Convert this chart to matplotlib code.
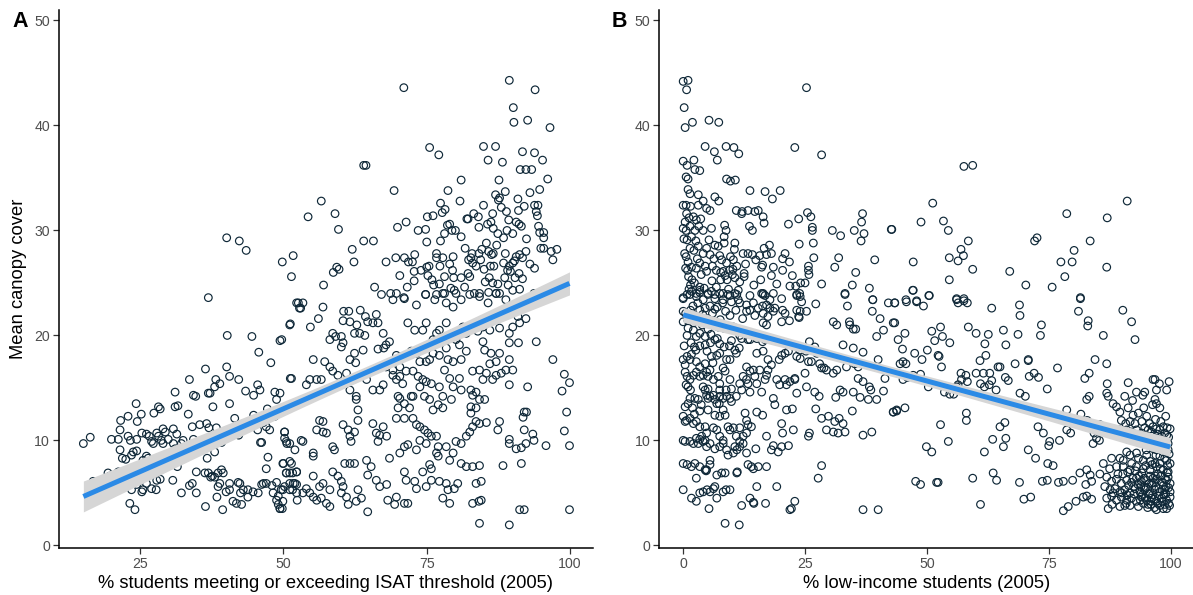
import numpy as np
import matplotlib
matplotlib.use("Agg")
import matplotlib.pyplot as plt

plt.rcParams['font.family'] = ['Liberation Sans', 'DejaVu Sans']

# ---- Panel A: % students meeting/exceeding ISAT (x) vs mean canopy cover (y)
isat_high = [
    (40.1,29.3),(42.3,29.0),(43.5,28.1),(49.8,27.0),(51.7,27.6),(51.4,25.6),(36.9,23.6),
    (89.4,44.3),(93.9,43.4),(71.0,43.6),(90.1,41.7),(90.2,40.3),(92.6,40.5),(96.5,39.8),
    (75.5,37.9),(77.1,37.2),(84.9,38.0),(87.0,38.0),(85.7,36.7),(88.2,36.5),(91.7,37.5),
    (93.8,37.4),(95.2,36.7),(91.3,35.8),(92.3,35.8),(93.3,35.8),(96.1,34.9),(81.0,34.8),
    (87.6,34.8),(64.0,36.2),(64.4,36.2),(69.3,33.8),(78.7,33.8),(87.0,33.4),(88.7,33.7),
    (93.0,33.6),(94.7,33.9),(56.6,32.8),(80.8,32.8),(77.4,32.6),(87.5,32.9),(87.7,33.1),
    (90.9,33.0),(84.9,32.4),(92.0,32.3),(93.8,32.4),(94.4,32.4),(54.3,31.3),(59.0,31.6),
    (59.6,30.1),(75.1,31.3),(76.1,31.4),(77.7,31.7),(78.2,32.0),(82.0,31.1),(82.2,31.1),
    (83.2,31.6),(84.0,31.3),(86.5,31.6),(88.0,32.2),(88.9,31.8),(91.0,31.9),(94.1,31.8),
    (94.3,31.4),(69.9,30.3),(71.4,30.8),(73.5,30.0),(74.8,30.1),(75.0,28.9),(77.4,29.0),
    (78.1,29.7),(78.6,30.5),(79.0,30.6),(79.4,30.0),(80.0,30.0),(81.0,29.4),(84.1,30.3),
    (85.6,30.6),(86.2,30.8),(86.6,30.2),(87.4,29.7),(88.4,29.3),(89.0,30.0),(89.3,31.0),
    (90.0,29.7),(90.6,30.8),(91.1,30.6),(91.5,30.4),(92.4,29.2),(94.5,30.4),(94.7,29.8),
    (95.4,29.8),(95.4,29.3),(94.9,28.3),(95.4,28.3),(96.7,28.0),(97.7,28.2),(97.0,27.2),
    (93.0,26.8),(93.8,26.4),(91.7,25.4),(57.0,24.8),(62.0,28.2),(62.3,27.0),(64.0,29.0),
    (65.7,29.0),(58.7,26.0),(59.3,26.5),(59.7,26.3),(65.9,24.6),(67.1,23.9),(68.7,24.0),
    (67.9,27.0),(69.6,27.4),(70.3,25.7),(71.1,27.4),(71.6,24.6),(71.8,27.0),(72.5,27.0),
    (72.8,26.1),(72.9,27.7),(72.8,25.2),(74.0,26.2),(75.0,26.5),(75.4,26.6),(75.2,25.7),
    (75.9,25.3),(76.2,24.8),(76.7,27.8),(76.7,27.4),(77.8,27.4),(77.3,26.6),(78.1,25.6),
    (77.2,24.9),(79.0,26.8),(79.6,27.5),(79.5,26.2),(79.7,25.5),(79.2,24.5),(81.0,25.5),
    (81.7,28.3),(82.3,27.2),(82.7,27.4),(83.0,26.9),(82.9,27.8),(82.2,25.9),(82.5,25.6),
    (81.6,24.6),(83.6,26.6),(84.1,27.8),(84.6,28.2),(84.4,27.2),(85.0,26.3),(85.2,25.1),
    (85.4,28.8),(85.8,28.0),(86.3,27.7),(86.6,27.8),(86.1,26.6),(86.7,26.6),(87.2,28.6),
    (85.9,25.5),(86.5,25.0),(87.4,24.9),(88.7,27.8),(88.4,26.9),(89.1,26.2),(89.4,26.6),
    (89.6,26.1),(90.0,26.9),(90.3,27.1),(90.6,27.5),(91.2,27.7),(88.6,25.5),(89.2,24.8),
    (91.1,25.9),(90.4,25.5),(92.3,28.0),(91.7,27.4),(90.0,24.3),(91.2,24.4),(93.7,24.0),
    (93.9,23.8),(84.2,24.0),(85.8,24.1),(87.1,24.0),(87.7,24.0),(78.1,24.0),(76.7,23.9),
    (79.8,24.3),(74.8,23.9),(71.0,23.6),(83.3,24.0),(80.1,24.0),
]

isat_mid = [
    (52.6,23.1),(53.4,23.1),(53.0,22.6),(56.9,22.7),(51.2,21.1),(54.7,20.8),(56.1,21.6),
    (60.5,22.3),(61.4,22.3),(60.4,21.4),(61.6,21.3),(62.8,21.0),(63.4,22.4),(64.3,21.8),
    (64.7,21.3),(63.3,20.2),(62.4,20.2),(66.2,22.0),(65.6,21.2),(66.5,21.2),(67.4,20.2),
    (64.2,20.0),(58.6,20.2),(59.1,19.9),(58.1,19.6),(60.1,19.9),(60.4,19.3),(60.1,18.9),
    (67.9,19.1),(68.5,19.4),(67.5,18.8),(63.9,18.6),(62.4,18.3),(62.6,17.4),(61.6,17.7),
    (66.5,18.7),(69.1,23.4),(69.7,24.0),(71.1,23.5),(73.2,22.9),(74.8,23.9),(76.4,23.4),
    (77.8,24.0),(78.4,23.1),(79.6,22.7),(81.0,23.4),(82.5,23.9),(84.2,23.7),(85.7,23.1),
    (87.1,24.0),(88.8,23.4),(89.7,22.7),(92.3,21.6),(90.9,21.8),(94.1,23.9),(93.4,23.2),
    (71.7,21.2),(72.9,20.5),(74.3,20.5),(74.9,21.2),(76.7,20.2),(77.2,20.5),(78.4,21.2),
    (81.3,20.8),(81.9,20.2),(79.6,20.2),(83.9,20.4),(84.8,20.8),(86.0,20.5),(87.7,20.7),
    (89.4,20.2),(90.0,20.8),(91.2,21.2),(89.4,19.3),(91.0,19.3),(94.1,19.4),(97.0,17.7),
    (99.0,16.3),(99.9,15.5),(98.6,14.7),(92.6,15.1),(89.4,15.3),(85.1,18.6),(86.2,18.3),
    (84.8,19.4),(87.7,18.3),(81.9,18.5),(81.0,17.7),(79.6,17.5),(78.7,17.7),(78.1,16.7),
    (79.0,15.9),(80.7,15.9),(77.2,15.1),(79.6,15.1),(81.0,14.8),(77.8,14.2),(79.3,13.9),
    (77.0,13.4),(77.8,13.1),(76.1,12.9),(74.6,14.2),(75.5,13.9),(73.8,15.1),(74.9,15.6),
    (75.8,15.4),(72.6,16.6),(73.5,16.1),(74.3,15.8),(71.4,16.6),(70.3,16.1),(70.8,15.4),
    (69.7,15.8),(69.1,16.2),(70.0,14.2),(70.3,14.0),(72.3,14.2),(72.6,14.2),(71.1,13.5),
    (70.0,13.1),(72.0,13.1),(83.0,16.6),(84.2,16.7),(85.4,16.4),(87.1,16.2),(88.0,16.4),
    (88.8,16.7),(90.0,16.7),(86.0,17.3),(87.1,17.5),(89.4,17.7),(84.8,15.8),(86.5,15.8),
    (82.7,14.8),(83.6,14.6),(83.0,14.3),(84.2,13.9),(85.1,13.9),(82.7,12.6),(83.6,13.1),
    (82.7,13.2),(49.7,19.6),(51.4,15.9),(49.4,14.5),(55.2,17.7),(55.8,15.8),(54.6,15.8),
    (56.6,15.8),(54.0,15.3),(57.2,17.5),(58.1,17.0),(58.6,16.6),(59.5,16.2),(59.8,15.3),
    (61.0,16.4),(61.6,14.8),(62.7,14.2),(64.5,15.8),(65.6,14.8),(66.8,14.8),(67.4,15.3),
    (67.9,17.0),(69.1,16.7),(69.7,18.1),(70.6,18.0),(70.3,17.0),(72.3,18.5),(73.2,18.3),
    (73.8,17.5),(74.9,17.5),(75.5,17.7),(76.1,18.3),(77.2,18.1),(76.7,19.3),(76.1,19.6),
    (78.4,18.8),(80.1,19.6),(80.7,19.1),
]

isat_low = [
    (99.4,12.7),(99.0,10.9),(99.9,9.5),(99.9,3.4),(92.0,12.7),(92.4,12.7),(91.8,12.2),
    (89.4,10.1),(89.4,9.7),(90.6,9.2),(91.5,9.3),(92.3,9.7),(93.5,10.6),(93.7,10.0),
    (92.0,11.0),(87.4,11.0),(87.7,11.8),(95.8,9.5),(88.3,7.6),(91.5,7.8),(91.2,3.4),
    (92.0,3.4),(84.2,2.1),(89.4,1.95),(84.5,4.3),(84.1,4.2),(83.0,4.0),(84.5,6.1),
    (83.6,5.9),(84.2,7.6),(83.0,7.5),(81.9,7.5),(81.0,7.8),(79.6,8.8),(79.0,8.1),
    (80.1,9.9),(81.0,9.7),(81.9,10.4),(82.5,10.8),(83.0,11.3),(83.6,11.8),(84.2,11.6),
    (85.4,11.7),(73.2,11.5),(73.8,11.3),(74.6,11.0),(75.2,10.7),(75.8,10.4),(76.7,10.4),
    (73.8,10.0),(74.9,9.7),(77.0,9.4),(78.4,9.4),(73.2,9.1),(71.7,9.6),(71.1,9.4),
    (70.3,8.8),(68.5,8.3),(66.8,10.5),(68.0,10.4),(67.4,11.3),(65.6,11.6),(66.2,10.7),
    (66.5,9.9),(69.7,12.1),(71.1,12.1),(72.6,12.1),(64.5,8.1),(65.3,7.5),(64.7,6.7),
    (66.2,6.2),(66.8,5.6),(68.0,5.8),(68.2,4.3),(69.7,4.6),(69.4,3.9),(71.1,4.0),
    (71.7,4.0),(71.1,7.0),(71.4,6.2),(72.9,6.1),(73.2,5.4),(74.9,5.6),(75.8,6.2),
    (74.3,7.0),(75.5,7.7),(75.8,7.3),(76.7,8.8),(77.0,8.5),(77.2,6.1),(78.4,5.9),
    (78.7,5.3),(79.0,4.0),(77.8,4.5),(79.8,5.4),(80.4,5.9),(62.7,4.2),(64.7,3.2),
    (63.0,5.3),(63.6,4.5),(61.0,4.6),(61.3,3.9),(60.1,5.0),(58.6,7.0),(59.5,6.6),
    (60.1,6.1),(60.4,5.6),(60.7,7.8),(61.6,7.8),(62.4,7.8),(56.9,5.9),(58.1,5.3),
    (56.3,5.6),(55.2,6.6),(54.0,5.4),(53.4,5.0),(54.6,5.0),(55.2,4.6),(55.8,4.3),
    (56.6,4.5),(58.1,3.7),(57.5,4.0),(51.7,5.9),(52.3,5.8),(51.1,5.3),(49.9,5.3),
    (49.9,4.2),(49.4,3.5),(50.5,6.9),(51.1,6.9),(52.3,7.0),(51.4,7.8),(49.9,7.8),
    (55.2,8.8),(55.2,8.5),(53.4,9.9),(53.1,10.0),(55.8,11.0),(56.9,10.8),(57.5,10.7),
    (56.3,11.9),(56.9,11.8),(58.6,9.4),(58.9,9.1),(60.4,11.5),(61.3,11.0),(61.6,10.4),
    (61.8,9.9),(63.0,11.9),(62.4,10.8),(63.0,12.9),(62.7,13.9),(50.2,10.8),(50.5,9.9),
    (51.1,9.7),
]

isat_left = [
    (52.3,23.1),(52.8,22.6),(51.1,21.0),(40.2,20.0),(44.5,19.9),(49.4,19.5),(45.7,18.4),
    (47.8,17.4),(40.1,17.0),(36.4,16.8),(40.6,16.1),(42.2,15.8),(51.2,15.9),(33.6,15.8),
    (38.2,15.8),(38.9,15.4),(38.0,15.1),(45.5,15.3),(45.9,14.8),(43.4,14.7),(44.8,14.3),
    (48.5,14.6),(48.8,13.9),(31.1,14.6),(34.3,14.3),(34.7,14.2),(36.9,14.5),(37.2,14.5),
    (37.7,13.2),(40.6,13.5),(31.1,13.2),(31.6,13.3),(28.2,13.2),(28.5,13.0),(24.3,13.5),
    (47.2,13.0),(33.4,12.5),(27.4,12.6),(25.2,12.5),(22.9,12.3),(21.6,11.9),(24.5,11.8),
    (41.5,12.1),(44.8,12.4),(48.5,12.3),(43.1,11.6),(46.5,11.7),(47.0,11.3),(47.6,11.0),
    (45.5,11.0),(50.2,10.8),(35.4,11.5),(36.6,11.6),(37.0,11.2),(34.1,11.3),(38.3,11.2),
    (30.8,11.1),(31.4,10.6),(29.0,11.1),(29.4,10.8),(27.9,10.7),(28.2,10.4),(26.1,10.6),
    (26.6,10.4),(25.3,10.7),(22.9,10.4),(23.3,10.0),(21.5,11.0),(21.2,10.1),(20.0,10.1),
    (16.3,10.3),(15.1,9.7),(24.4,10.1),(27.0,9.9),(27.3,9.7),(28.7,10.0),(29.0,9.7),
    (29.9,10.1),(30.8,9.7),(31.1,9.2),(32.2,9.7),(32.5,10.0),(34.3,10.1),(35.7,9.9),
    (36.3,9.7),(36.9,9.7),(39.2,9.8),(40.5,10.4),(41.1,10.5),(42.2,10.5),(46.2,9.8),
    (50.2,10.2),(50.6,9.7),(21.5,9.1),(21.9,8.3),(22.5,8.2),(23.5,8.6),(23.8,8.9),
    (24.4,9.0),(25.5,8.1),(26.1,8.5),(26.4,8.3),(27.2,7.8),(27.8,7.5),(28.3,7.8),
    (29.6,7.9),(29.9,7.7),(31.4,9.1),(31.2,8.8),(31.5,7.5),(36.7,8.3),(38.0,8.9),
    (21.2,7.0),(19.4,6.9),(19.7,6.6),(20.4,6.4),(18.8,5.9),(16.8,6.1),(34.8,7.0),
    (36.3,6.9),(36.9,6.9),(37.6,6.6),(37.3,6.5),(38.0,6.5),(38.6,6.9),(39.2,7.2),
    (39.5,6.9),(38.9,5.9),(38.6,5.6),(40.6,5.9),(42.1,6.0),(42.4,5.9),(40.6,5.3),
    (40.0,5.1),(38.4,4.6),(39.4,3.4),(36.4,3.7),(24.1,6.5),(23.8,6.1),(24.4,5.8),
    (23.5,5.3),(25.0,6.2),(25.5,5.3),(25.3,5.1),(26.1,5.9),(27.0,5.4),(27.8,5.3),
    (27.9,6.2),(28.5,6.3),(30.7,6.2),(32.2,5.0),(33.6,5.7),(34.1,5.9),(34.8,5.0),
    (23.2,4.0),(24.1,3.4),(41.2,4.2),(41.8,4.0),(42.7,3.9),(42.5,5.0),(43.0,5.3),
    (43.8,5.3),(44.7,5.1),(45.6,5.0),(43.8,4.6),(46.2,5.8),(46.5,5.9),(47.0,5.9),
    (48.2,5.0),(48.8,6.0),(49.1,4.7),(48.8,4.3),(49.1,3.9),(49.4,3.5),(49.8,3.5),
    (49.6,5.3),(50.2,5.6),(46.0,9.8),(47.0,7.3),(47.3,8.4),(48.0,5.7),(50.0,7.8),
    (51.1,8.0),(51.6,6.9),(50.5,6.9),(52.3,7.0),(51.1,5.9),(52.0,5.9),(51.6,5.3),
    (52.3,5.0),(52.4,4.3),(52.0,9.1),
]

# ---- Panel B: % low-income students (x) vs mean canopy cover (y)
lowinc_high = [
    (0.0,44.2),(1.0,44.3),(0.7,43.4),(0.2,41.7),(0.4,39.8),(1.9,40.3),(5.3,40.5),
    (7.3,40.3),(25.3,43.6),(22.9,37.9),(28.4,37.2),(4.5,38.0),(6.4,37.5),(7.0,36.7),
    (8.8,38.0),(10.4,37.9),(11.4,37.3),(0.0,36.6),(0.8,36.2),(2.2,36.7),(0.6,35.1),
    (1.0,34.9),(2.4,35.8),(3.4,35.7),(8.9,34.9),(9.7,34.7),(10.7,34.8),(1.0,33.9),
    (1.4,33.5),(3.1,33.4),(6.5,33.2),(7.3,32.8),(4.1,32.8),(0.0,32.4),(0.6,32.4),
    (1.5,32.3),(3.1,32.4),(13.7,33.8),(16.8,33.7),(18.3,33.0),(19.9,33.8),(4.8,32.1),
    (5.5,31.9),(0.7,31.6),(1.2,31.2),(0.4,30.8),(2.1,31.3),(2.7,31.0),(3.6,31.1),
    (0.0,30.2),(0.6,30.0),(1.4,30.4),(2.4,30.0),(3.2,30.4),(4.1,30.0),(0.15,29.2),
    (0.8,29.1),(1.7,29.4),(2.6,29.0),(5.8,30.2),(8.5,30.5),(8.8,30.0),(8.4,29.4),
    (8.4,28.8),(10.9,31.9),(12.0,31.6),(12.1,31.8),(13.3,31.9),(14.7,31.8),(15.4,31.9),
    (13.6,30.4),(14.2,30.0),(16.4,31.3),(16.6,30.7),(21.6,30.6),(23.7,31.1),(25.5,31.7),
    (26.2,31.3),(26.5,30.3),(26.5,30.0),(26.7,28.8),(23.8,28.7),(30.6,30.0),(32.3,29.5),
    (35.1,30.0),(37.1,29.7),(36.6,30.8),(36.8,31.6),(36.5,29.0),(42.7,30.1),(1.4,28.3),
    (0.6,27.5),(2.2,28.1),(3.1,28.5),(4.1,27.8),(4.8,28.3),(5.3,29.1),(6.5,28.6),
    (7.2,28.5),(5.5,27.7),(6.3,27.3),(7.5,27.6),(1.0,27.0),(1.7,26.5),(2.7,26.4),
    (3.4,26.9),(4.5,26.6),(4.8,26.1),(1.1,25.6),(1.5,24.8),(2.3,25.0),(3.4,24.6),
    (6.0,26.6),(6.8,26.2),(7.7,26.0),(7.7,25.3),(8.2,26.1),(8.9,26.9),(9.7,27.5),
    (10.3,27.2),(10.5,28.2),(10.6,28.8),(9.5,26.2),(10.1,25.8),(10.6,25.5),(9.0,25.3),
    (11.0,26.6),(11.3,24.3),(12.3,27.8),(13.3,27.8),(14.2,27.7),(12.5,25.9),(12.5,25.6),
    (14.5,24.8),(14.9,27.2),(15.7,27.6),(16.3,26.7),(16.6,28.3),(17.7,28.6),(17.1,27.7),
    (18.1,27.8),(16.1,26.5),(18.5,26.5),(18.1,25.7),(19.2,24.9),(15.9,25.3),(20.4,27.3),
    (20.9,27.8),(21.8,27.0),(20.4,26.2),(22.4,25.7),(21.9,24.7),(23.1,24.7),(24.1,25.0),
    (25.0,25.0),(25.7,26.6),(25.7,26.2),(25.8,25.8),(26.8,27.4),(28.4,24.9),(31.1,26.5),
    (31.9,27.4),(33.2,24.0),(34.7,24.8),(35.4,26.0),(38.2,24.5),(39.3,27.2),(38.9,23.4),
    (23.3,23.8),(23.9,24.0),(16.4,24.0),(16.8,23.8),(13.7,23.8),(11.0,23.9),(9.6,23.8),
    (8.2,24.0),(6.5,23.9),(5.1,24.0),(3.4,24.3),(2.7,24.0),(1.4,23.9),(0.0,23.6),
    (57.6,36.1),(59.4,36.2),(51.2,32.6),(91.1,32.8),(78.7,31.6),(87.0,31.2),(42.8,30.1),
    (48.8,30.8),(53.4,30.9),(54.4,30.0),(58.5,29.0),(57.0,28.2),(57.5,27.6),(56.4,27.1),
    (54.6,27.4),(59.4,26.3),(54.6,25.3),(47.2,27.0),(67.0,26.1),(72.6,29.3),(72.1,29.0),
    (80.2,28.1),(83.5,29.0),(77.5,27.0),(79.8,27.0),(78.3,25.6),(86.9,26.5),(70.3,24.8),
    (75.7,24.6),(81.5,23.6),(47.2,24.3),(50.5,23.8),(56.1,23.5),(57.6,23.5),(45.7,23.4),
    (47.9,23.3),
]

lowinc_left = [
    (0.0,23.5),(0.8,23.9),(1.7,24.2),(2.7,23.7),(3.4,24.1),(4.1,23.4),(5.1,23.9),
    (5.8,24.2),(6.5,23.5),(7.5,24.0),(8.2,23.4),(9.2,23.9),(9.9,23.2),(10.6,24.0),
    (11.3,23.4),(0.0,22.3),(0.5,22.1),(1.5,22.4),(2.4,21.9),(3.4,22.4),(4.5,22.6),
    (5.5,22.8),(6.5,22.5),(7.0,22.7),(8.1,23.1),(0.0,21.3),(1.0,21.4),(2.1,21.2),
    (3.1,21.5),(4.1,21.3),(1.0,20.7),(0.8,20.0),(2.1,20.5),(2.7,19.9),(3.4,20.2),
    (4.5,19.9),(5.1,20.6),(6.2,21.0),(7.2,20.8),(8.3,20.7),(9.2,20.8),(10.3,20.8),
    (11.6,20.0),(12.0,19.7),(13.3,19.6),(11.6,23.1),(13.0,22.9),(13.7,22.4),(14.4,23.1),
    (15.4,22.6),(16.3,22.8),(17.1,22.9),(17.8,22.6),(13.0,22.3),(14.7,21.9),(16.4,22.1),
    (17.4,21.8),(16.4,21.2),(17.1,21.0),(18.5,22.3),(18.8,22.6),(16.1,24.0),(16.4,23.9),
    (18.5,24.0),(17.8,23.4),(20.2,23.5),(20.4,22.4),(20.9,22.1),(20.2,21.3),(21.8,21.4),
    (23.3,23.9),(24.0,23.7),(24.3,23.2),(23.3,22.4),(24.0,22.3),(25.3,22.3),(23.7,21.8),
    (23.8,21.7),(27.2,23.0),(30.8,21.3),(31.5,21.0),(34.1,21.3),(34.2,21.0),(34.9,20.6),
    (35.4,20.6),(33.2,23.9),(33.7,22.8),(38.9,23.4),(38.8,22.3),(40.4,21.6),(41.1,20.5),
    (39.7,19.9),(42.1,23.1),(43.4,23.1),(43.4,21.2),(9.5,19.0),(7.5,19.2),(6.5,19.6),
    (5.6,19.3),(4.5,19.1),(3.4,19.0),(2.6,18.6),(1.7,18.2),(0.8,18.0),(0.0,17.7),
    (0.4,17.2),(1.4,17.7),(2.7,17.5),(3.4,17.0),(4.5,17.3),(5.8,18.0),(6.9,18.1),
    (7.5,18.3),(4.8,16.5),(5.5,16.7),(8.9,17.7),(9.6,17.7),(0.4,16.5),(0.8,16.1),
    (1.4,15.8),(2.1,16.2),(2.7,16.5),(3.4,16.1),(4.1,16.2),(5.1,16.1),(6.2,15.8),
    (7.2,16.1),(7.5,15.4),(8.2,16.9),(8.6,16.6),(9.6,15.8),(9.9,14.9),(8.8,14.8),
    (7.5,14.8),(1.0,15.1),(1.5,14.8),(2.4,14.0),(3.1,13.9),(4.1,15.1),(4.5,14.8),
    (5.1,14.9),(4.8,14.3),(5.5,14.2),(6.2,14.3),(5.1,14.0),(6.5,13.9),(1.4,14.0),
    (1.0,13.5),(0.4,13.2),(7.5,14.2),(8.2,14.0),(8.9,14.2),(9.6,14.0),(9.9,13.7),
    (6.9,13.5),(7.4,13.5),(8.2,12.9),(3.4,12.8),(5.1,12.9),(6.5,12.4),(7.5,12.3),
    (8.6,12.4),(0.0,12.3),(0.7,11.9),(1.4,12.1),(0.4,11.8),(2.1,11.6),(2.7,11.8),
    (3.4,11.3),(4.5,11.3),(4.8,10.7),(6.2,11.2),(6.9,11.0),(7.5,10.4),(8.2,10.0),
    (9.2,11.3),(9.6,11.0),(10.3,11.2),(0.4,9.9),(0.0,10.0),(1.4,9.9),(2.1,9.7),
    (2.7,10.2),(3.1,9.7),(3.8,10.4),(4.1,9.9),(3.4,10.1),(4.5,10.0),(4.8,9.4),
    (5.5,9.7),(6.5,9.2),(7.5,9.4),(8.2,9.7),(8.9,9.1),(9.2,8.6),(10.3,8.8),
    (11.0,9.1),(11.6,9.4),(12.3,9.7),(0.0,7.8),(0.8,7.7),(1.7,7.5),(2.4,7.8),
    (3.4,7.5),(4.8,7.2),(5.5,8.1),(5.5,7.7),(4.5,7.2),(4.7,7.1),(6.9,6.7),
    (7.9,6.9),(8.6,6.9),(11.0,6.9),(11.1,7.0),(0.0,5.3),(2.7,6.4),(1.7,4.5),
    (2.7,4.2),(3.4,5.0),(4.1,5.1),(4.9,5.3),(5.5,5.1),(6.2,5.4),(6.5,5.6),
    (6.9,4.5),(5.3,3.5),(8.2,5.1),(8.8,5.3),(9.6,5.3),(8.6,2.1),(11.5,1.95),
    (12.0,3.8),(13.7,4.5),(14.4,4.1),(14.5,4.0),(15.1,5.6),(16.9,4.0),(19.2,5.6),
    (22.2,3.5),(21.9,3.4),(22.9,4.2),(27.7,6.4),(28.4,7.6),(13.3,7.7),(14.0,7.5),
    (14.4,7.3),(15.4,7.5),(17.1,7.5),(13.0,8.8),(14.9,9.2),(10.6,9.4),(11.6,9.9),
    (13.0,10.7),(12.3,10.4),(10.9,10.4),(11.6,11.2),(13.0,11.9),(13.3,11.5),(14.0,11.3),
    (12.7,12.6),(15.1,12.7),(16.3,12.4),(17.1,10.4),(18.5,9.5),(18.1,9.1),(20.2,11.6),
    (20.4,10.7),(20.2,9.4),(21.6,9.5),(19.5,8.9),(22.6,11.0),(25.9,10.7),(25.7,10.4),
    (21.2,12.9),(22.4,13.0),(18.5,14.0),(18.8,13.4),(16.1,14.6),(15.1,15.4),(16.8,15.8),
    (15.7,16.7),(17.1,16.2),(14.4,16.7),(14.7,16.1),(13.0,17.0),(13.7,16.6),(12.3,16.1),
    (13.0,15.8),(13.3,15.4),(11.6,15.4),(12.0,14.8),(13.7,14.6),(10.9,14.2),(19.2,15.8),
    (19.8,15.3),(20.9,15.8),(21.2,15.3),(21.9,15.6),(22.9,15.9),(22.9,15.8),(23.3,14.5),
    (25.3,15.1),(19.7,17.7),(20.2,18.1),(20.9,18.3),(21.6,18.5),(17.4,17.7),(18.1,17.2),
    (17.4,16.7),(15.1,18.3),(16.4,18.5),(16.3,19.4),(16.8,19.6),(15.1,19.7),(13.7,19.6),
    (10.6,18.6),(10.9,18.3),(11.5,18.8),(23.9,18.6),(24.8,18.8),(25.2,18.5),(25.7,17.5),
    (25.0,16.4),(26.3,17.5),(28.0,17.3),(28.4,16.9),(29.4,16.7),(28.9,16.9),(25.9,19.4),
    (27.0,18.9),(27.4,18.3),(23.3,18.0),(24.0,17.8),(30.8,16.4),(31.5,16.7),(33.5,17.0),
    (35.2,17.3),(35.9,17.0),(32.8,19.1),(34.9,18.8),(36.9,18.4),(40.0,17.7),(35.9,15.9),
    (36.9,15.6),(38.2,15.1),(38.5,14.8),(39.7,13.9),(41.1,14.7),(41.4,15.9),(27.0,14.6),
    (27.9,14.2),(32.2,14.8),(32.8,14.6),(34.9,14.6),(31.3,14.1),(36.3,14.1),(38.0,13.9),
    (27.2,13.0),(28.4,12.1),(29.8,12.3),(31.1,11.8),(32.0,12.1),(32.8,11.6),(29.4,11.0),
    (30.8,10.8),(31.8,10.7),(33.2,10.8),(34.7,12.8),(36.9,10.5),(38.7,10.8),(36.9,3.4),
    (40.0,3.4),(43.1,12.7),(43.8,12.9),
]

# dense column of low-income-share near 0 %
lowinc_left_dense = [
    (0.3,27.8),(0.9,26.2),(1.8,25.3),(2.9,27.3),(3.7,25.8),(4.3,24.5),(5.9,25.2),
    (6.8,24.6),(7.9,27.2),(8.6,25.7),(9.3,24.4),(10.2,26.3),(11.6,25.1),(12.8,26.8),
    (0.5,26.4),(1.2,24.4),(2.0,22.8),(3.0,23.1),(4.0,22.0),(5.0,21.6),(6.0,22.1),
    (7.6,21.5),(8.7,22.3),(9.6,21.9),(10.8,22.4),(12.2,21.6),(1.6,19.3),(2.3,18.9),
    (4.9,18.5),(6.1,17.4),(7.0,19.7),(8.4,18.9),(9.9,19.5),(3.9,21.0),(5.7,20.1),
    (0.2,19.0),(0.6,15.3),(1.9,13.1),(3.7,13.4),(2.3,12.5),
]

lowinc_right = [
    (43.4,23.1),(45.8,23.2),(47.9,23.2),(49.3,22.8),(50.4,23.8),(56.1,23.4),(56.4,23.1),
    (57.6,23.3),(58.3,23.1),(47.1,24.3),(43.1,21.2),(63.3,22.6),(69.0,22.9),(69.1,21.9),
    (73.5,21.0),(73.3,20.0),(68.7,20.1),(81.1,22.3),(81.5,23.5),(83.1,21.4),(83.0,20.9),
    (86.2,20.0),(90.2,22.4),(92.0,21.3),(92.7,19.6),(45.5,20.2),(44.1,19.6),(45.0,18.7),
    (45.1,17.5),(45.7,17.3),(44.5,17.3),(51.0,20.4),(52.8,20.8),(53.2,19.9),(51.6,19.5),
    (54.7,19.3),(52.3,18.1),(58.5,20.8),(60.1,20.2),(62.6,20.1),(65.7,20.5),(66.2,19.1),
    (61.9,19.2),(62.1,18.1),(60.9,17.6),(47.5,18.3),(49.0,17.7),(50.1,18.6),(52.5,18.0),
    (53.0,17.0),(57.0,16.4),(58.0,16.2),(57.1,15.8),(56.4,15.3),(58.3,15.6),(60.1,16.4),
    (61.6,16.4),(62.9,16.4),(61.0,15.4),(61.8,15.1),(62.8,15.3),(63.3,15.7),(64.2,14.8),
    (64.6,17.0),(65.0,17.0),(66.1,16.0),(66.7,15.7),(68.1,17.3),(69.1,14.5),(70.2,14.2),
    (70.8,17.7),(71.0,16.1),(72.0,16.4),(72.9,16.0),(74.7,14.9),(76.8,16.9),(70.8,17.6),
    (50.3,15.1),(53.6,14.6),(54.7,14.4),(55.5,14.4),(56.1,15.1),(45.1,15.8),(46.0,16.0),
    (48.7,16.3),(47.2,16.2),(43.1,12.7),(43.8,12.8),(45.5,13.1),(58.1,12.6),(58.1,11.9),
    (52.8,11.5),(54.4,9.9),(49.9,9.4),(51.0,8.9),(65.0,11.3),(66.0,11.7),(63.5,10.1),
    (66.2,10.2),(65.7,9.4),(61.8,8.9),(72.8,11.3),(73.9,10.7),(75.2,9.9),(75.0,9.5),
    (77.2,10.0),(78.7,12.9),(80.0,12.0),(78.7,11.0),(79.5,10.7),(81.6,12.5),(82.9,11.9),
    (76.6,12.3),(70.8,9.1),(72.3,8.3),(74.8,7.8),(75.9,7.6),(82.8,13.9),(83.3,14.2),
    (82.4,15.9),(83.3,16.4),(84.5,17.7),(86.9,17.3),(87.0,15.4),(86.9,14.5),(87.2,14.2),
    (88.2,13.5),(88.9,13.2),(90.6,14.2),(91.3,15.5),(92.2,13.8),(93.0,14.6),(94.3,14.3),
    (94.7,14.6),(96.4,15.8),(96.8,15.8),(97.7,15.4),(97.1,14.8),(99.7,15.6),(99.2,14.8),
    (96.8,13.9),(96.3,13.4),(97.1,13.5),(97.8,13.1),(89.6,12.7),(91.3,13.1),(92.3,12.4),
    (93.4,12.6),(94.5,13.1),(95.1,12.3),(94.1,11.8),(92.7,11.6),(91.7,11.8),(90.8,11.6),
    (89.9,11.9),(85.5,11.5),(86.2,11.2),(84.3,10.7),(84.8,10.2),(84.1,9.7),(85.4,10.0),
    (87.5,10.8),(88.6,10.5),(89.6,11.0),(91.0,11.0),(92.0,10.8),(90.3,10.4),(91.3,10.1),
    (93.0,11.0),(94.1,10.7),(94.7,11.2),(95.4,11.0),(96.1,10.8),(96.4,11.3),(97.1,11.1),
    (97.8,11.0),(98.5,11.3),(99.3,11.2),(99.9,11.1),(95.1,10.4),(96.1,10.4),(97.1,10.2),
    (98.2,10.4),(99.2,10.5),(96.4,9.9),(97.5,9.7),(98.5,9.9),(99.5,9.7),(95.4,9.7),
    (94.4,10.0),(97.1,9.1),(98.5,8.9),(99.5,9.1),(97.8,8.5),(98.8,8.3),(91.0,8.9),
    (91.7,8.6),(93.0,8.8),(93.4,8.3),(94.4,8.1),(92.0,7.8),(90.3,8.1),(89.6,8.3),
    (87.9,8.3),(86.2,7.8),(95.1,8.6),(95.8,8.0),(96.8,7.8),(97.8,7.8),(99.2,8.1),
    (99.9,7.8),(87.5,7.3),(88.9,7.5),(90.3,7.5),(91.7,7.2),(93.0,7.5),(94.4,7.3),
    (95.8,7.2),(97.1,7.5),(98.5,7.2),(99.5,7.0),(81.4,6.9),(82.8,7.2),(83.5,6.7),
    (85.5,6.8),(83.8,6.1),(82.6,5.8),(79.9,6.2),(78.0,6.1),(77.0,6.0),(74.7,6.2),
    (73.7,6.1),(69.0,6.0),(64.3,6.2),(63.6,6.9),(59.4,6.4),(52.3,6.0),(52.0,6.0),
    (48.7,5.8),(47.7,6.1),(71.3,4.6),(69.9,4.4),(61.0,3.9),(78.0,3.3),(79.0,3.7),
    (80.6,4.2),(82.1,4.6),(82.8,4.7),(83.8,4.4),
    (95.7,11.6),(96.9,12.0),(98.0,11.8),(99.0,12.3),(99.6,10.3),(98.8,10.7),(97.3,10.6),
    (96.5,9.2),(95.0,9.1),(98.1,9.4),(99.7,8.7),(97.0,8.6),
]

lowinc_cluster = [
    (86.9,6.5),(87.9,6.1),(88.9,6.3),(89.9,5.9),(91.0,6.2),(92.0,6.0),(93.0,6.4),
    (94.0,6.1),(95.1,6.2),(96.1,5.9),(97.1,6.3),(98.2,6.0),(99.2,6.2),(99.9,5.9),
    (86.5,5.6),(87.6,5.3),(88.6,5.4),(89.6,5.1),(90.6,5.3),(91.7,5.0),(92.7,5.4),
    (93.7,5.1),(94.7,5.3),(95.8,5.0),(96.8,5.3),(97.8,5.1),(98.8,5.3),(99.9,5.1),
    (86.9,4.5),(87.9,4.7),(88.9,4.3),(89.9,4.6),(91.0,4.3),(92.0,4.5),(93.0,4.2),
    (94.0,4.6),(95.1,4.3),(96.1,4.5),(97.1,4.2),(98.2,4.5),(99.2,4.3),(99.9,4.6),
    (87.2,3.5),(89.6,3.7),(90.6,3.8),(91.7,3.8),(93.4,3.7),(94.4,4.0),(95.4,3.9),
    (97.1,3.4),(99.2,3.5),(97.8,3.8),(93.5,6.6),(94.5,5.6),(95.5,4.9),(96.5,6.0),
    (97.5,4.7),(98.5,5.7),(99.5,6.5),(96.0,3.9),(97.0,5.6),(98.0,6.6),(99.0,4.9),
    (95.0,5.5),(96.6,4.4),(98.8,3.9),(94.2,4.8),(97.4,6.8),(99.6,5.5),(95.8,6.6),
    (90.2,6.8),(91.4,5.7),(92.5,4.9),(93.3,5.8),(94.1,6.9),(94.8,4.5),(95.6,5.9),
    (96.3,4.8),(96.9,6.6),(97.6,5.4),(98.3,4.2),(98.9,6.3),(99.6,4.0),(99.3,6.9),
    (90.9,4.0),(92.3,6.4),(93.8,4.3),(95.3,3.6),(96.7,3.6),(98.5,3.5),(99.8,3.8),
    (91.2,7.0),(92.8,7.1),(94.9,7.6),(96.2,7.7),(97.9,7.3),(99.4,7.6),(88.2,5.0),
    (89.2,6.8),(88.0,3.9),(90.0,5.0),(93.9,5.6),(95.9,4.2),(97.3,4.0),(98.6,4.8),
    (99.1,5.6),(96.4,6.4),(94.6,6.4),(92.4,5.6),(91.1,4.8),
]

panel_a_points = np.array(isat_high + isat_mid + isat_low + isat_left)
panel_b_points = np.array(lowinc_high + lowinc_left + lowinc_left_dense
                          + lowinc_right + lowinc_cluster)

x_ticks_a = [25, 50, 75, 100]
x_ticks_b = [0, 25, 50, 75, 100]
y_ticks = [0, 10, 20, 30, 40, 50]

POINT_EDGE = "#0f2838"
LINE_BLUE = "#2b8ae6"
BAND_GREY = "#d6d6d6"
TICK_GREY = "#4d4d4d"


def draw_lm(ax, x, y):
    """Least-squares line with a 95% confidence band."""
    slope, intercept = np.polyfit(x, y, 1)
    n = len(x)
    resid = y - (slope * x + intercept)
    s = np.sqrt(np.sum(resid ** 2) / (n - 2))
    xs = np.linspace(x.min(), x.max(), 200)
    fit = slope * xs + intercept
    se = s * np.sqrt(1.0 / n + (xs - x.mean()) ** 2 / np.sum((x - x.mean()) ** 2))
    ax.fill_between(xs, fit - 1.96 * se, fit + 1.96 * se, color=BAND_GREY,
                    linewidth=0, zorder=3)
    ax.plot(xs, fit, color=LINE_BLUE, linewidth=3.6, solid_capstyle="butt", zorder=4)


def style_axes(ax, xticks):
    for side in ("top", "right"):
        ax.spines[side].set_visible(False)
    for side in ("left", "bottom"):
        ax.spines[side].set_linewidth(1.1)
        ax.spines[side].set_color("black")
    ax.set_xticks(xticks)
    ax.set_yticks(y_ticks)
    ax.tick_params(axis="both", length=4, width=0.9, color="#333333",
                   labelsize=10.2, labelcolor=TICK_GREY, pad=2.5)
    ax.set_ylim(-0.25, 51.0)


fig = plt.figure(figsize=(11.93, 5.95), dpi=100)
ax_a = fig.add_axes([59 / 1193, 47 / 595, 534 / 1193, 538 / 595])
ax_b = fig.add_axes([659.3 / 1193, 47 / 595, 533.7 / 1193, 538 / 595])

# Panel A
ax_a.scatter(panel_a_points[:, 0], panel_a_points[:, 1], s=30, facecolors="none",
             edgecolors=POINT_EDGE, linewidths=0.85, zorder=2)
draw_lm(ax_a, panel_a_points[:, 0], panel_a_points[:, 1])
style_axes(ax_a, x_ticks_a)
ax_a.set_xlim(10.85, 104.0)
ax_a.set_xlabel("% students meeting or exceeding ISAT threshold (2005)",
                fontsize=13.2, labelpad=3)
ax_a.set_ylabel("Mean canopy cover", fontsize=13.2, labelpad=5)

# Panel B
ax_b.scatter(panel_b_points[:, 0], panel_b_points[:, 1], s=30, facecolors="none",
             edgecolors=POINT_EDGE, linewidths=0.85, zorder=2)
draw_lm(ax_b, panel_b_points[:, 0], panel_b_points[:, 1])
style_axes(ax_b, x_ticks_b)
ax_b.set_xlim(-4.9, 104.6)
ax_b.set_xlabel("% low-income students (2005)", fontsize=13.2, labelpad=3)

fig.text(12 / 1193, 1 - 27 / 595, "A", fontsize=15.5, fontweight="bold", ha="left",
         va="baseline")
fig.text(612 / 1193, 1 - 27 / 595, "B", fontsize=15.5, fontweight="bold", ha="left",
         va="baseline")

fig.savefig("out.png", dpi=100)
